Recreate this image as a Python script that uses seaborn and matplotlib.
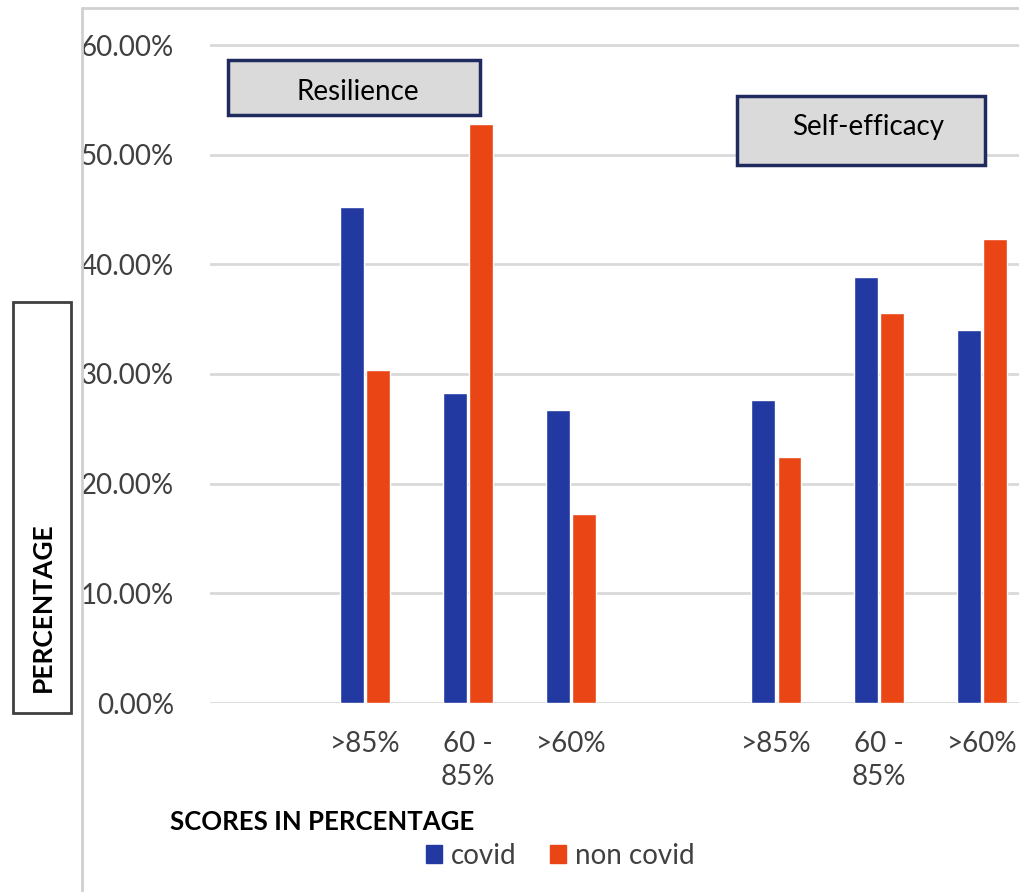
"""Resilience and self-efficacy scores, covid vs non covid, as grouped bars."""

import matplotlib.pyplot as plt
import pandas as pd
import seaborn as sns
from matplotlib.lines import Line2D
from matplotlib.patches import Rectangle
from matplotlib.ticker import PercentFormatter

W, H = 1019, 892

SCALES = ["Resilience", "Self-efficacy"]
BANDS = [">85%", "60 -\n85%", ">60%"]
GROUPS = ["covid", "non covid"]

# values, one list per scale and group (fractions)
RESILIENCE_COVID = [0.452, 0.283, 0.267]
RESILIENCE_NON_COVID = [0.304, 0.528, 0.172]
SELF_EFFICACY_COVID = [0.276, 0.388, 0.340]
SELF_EFFICACY_NON_COVID = [0.224, 0.356, 0.423]

COLORS = {"covid": "#2139A1", "non covid": "#E94515"}
FONT = ["Lato", "DejaVu Sans"]


def build_table() -> pd.DataFrame:
    series = {
        ("Resilience", "covid"): RESILIENCE_COVID,
        ("Resilience", "non covid"): RESILIENCE_NON_COVID,
        ("Self-efficacy", "covid"): SELF_EFFICACY_COVID,
        ("Self-efficacy", "non covid"): SELF_EFFICACY_NON_COVID,
    }
    rows = []
    for (scale, group), values in series.items():
        for band, value in zip(BANDS, values):
            rows.append({"key": f"{scale}|{band}", "band": band, "group": group, "value": value})
    return pd.DataFrame(rows)


def px_box(x0, y0, x1, y1):
    """Figure-fraction rectangle from pixel corners (top-left origin)."""
    return x0 / W, 1 - y1 / H, (x1 - x0) / W, (y1 - y0) / H


def main() -> None:
    sns.set_theme(style="white")
    plt.rcParams["font.family"] = FONT
    plt.rcParams["text.color"] = "#404040"

    data = build_table()
    order = [f"Resilience|{b}" for b in BANDS] + ["gap"] + [f"Self-efficacy|{b}" for b in BANDS]

    fig = plt.figure(figsize=(W / 100, H / 100), dpi=100)
    y0_px, y60_px = 703, 45
    per_unit = (y0_px - y60_px) / 0.6
    top_px = y0_px - 0.62 * per_unit
    ax = fig.add_axes([210 / W, 1 - y0_px / H, (W - 210) / W, (y0_px - top_px) / H])

    sns.barplot(
        data=data, x="key", y="value", hue="group", order=order, hue_order=GROUPS,
        palette=COLORS, width=0.51, gap=0.09, errorbar=None, saturation=1, ax=ax,
    )

    ax.set_ylim(0, 0.62)
    ax.set_xlim(-1.51, 6.36)
    ax.set_yticks([0, 0.1, 0.2, 0.3, 0.4, 0.5, 0.6])
    ax.yaxis.set_major_formatter(PercentFormatter(1.0, decimals=2))
    ax.yaxis.grid(True, color="#D9D9D9", lw=2)
    ax.set_axisbelow(True)
    for side in ax.spines.values():
        side.set_visible(False)
    ax.tick_params(axis="y", length=0, pad=26, labelsize=20, labelcolor="#404040")
    ax.tick_params(axis="x", length=0, pad=20, labelsize=20, labelcolor="#404040")
    ax.set_xticks(range(len(order)))
    ax.set_xticklabels([BANDS[i % 4] if i != 3 else "" for i in range(len(order))])
    for label in ax.get_xticklabels():
        label.set_linespacing(1.35)
        label.set_verticalalignment("top")
    ax.set_xlabel("")
    ax.set_ylabel("")

    handles = [Rectangle((0, 0), 1, 1, color=COLORS[g]) for g in GROUPS]
    ax.get_legend().remove()
    fig.legend(
        handles, GROUPS, loc="center", bbox_to_anchor=(560 / W, 1 - 856 / H), ncol=2,
        frameon=False, fontsize=20, handlelength=0.6, handleheight=0.6,
        handletextpad=0.3, columnspacing=1.2, labelcolor="#404040",
    )

    # axis titles
    fig.text(170 / W, 1 - 822 / H, "SCORES IN PERCENTAGE", fontsize=18.5, fontweight="bold",
             color="black", va="center", ha="left")
    fig.patches.append(Rectangle(px_box(13, 302, 71, 713)[:2], *px_box(13, 302, 71, 713)[2:],
                                 transform=fig.transFigure, fill=False, ec="#404040", lw=2))
    fig.text(43 / W, 1 - 692 / H, "PERCENTAGE", rotation=90, fontsize=19, fontweight="bold",
             color="black", va="bottom", ha="center")

    # scale labels in grey boxes
    for (x0, y0, x1, y1), (tx, ty), text in [
        ((228, 60, 480, 115), (358, 92), "Resilience"),
        ((737, 96, 985, 165), (868, 127), "Self-efficacy"),
    ]:
        box = px_box(x0, y0, x1, y1)
        fig.patches.append(Rectangle(box[:2], *box[2:], transform=fig.transFigure,
                                     fc="#DADADA", ec="#1F2B5E", lw=2.5, zorder=5))
        fig.text(tx / W, 1 - ty / H, text, fontsize=20, color="black",
                 ha="center", va="center", zorder=6)

    # outer chart frame, cropped at the right and bottom
    fig.add_artist(Line2D([82 / W, 82 / W], [0, 1 - 8 / H], color="#D0D0D0", lw=2))
    fig.add_artist(Line2D([82 / W, 1], [1 - 8 / H, 1 - 8 / H], color="#D0D0D0", lw=2))

    fig.savefig("out.png", dpi=100)
    plt.close(fig)


if __name__ == "__main__":
    main()
